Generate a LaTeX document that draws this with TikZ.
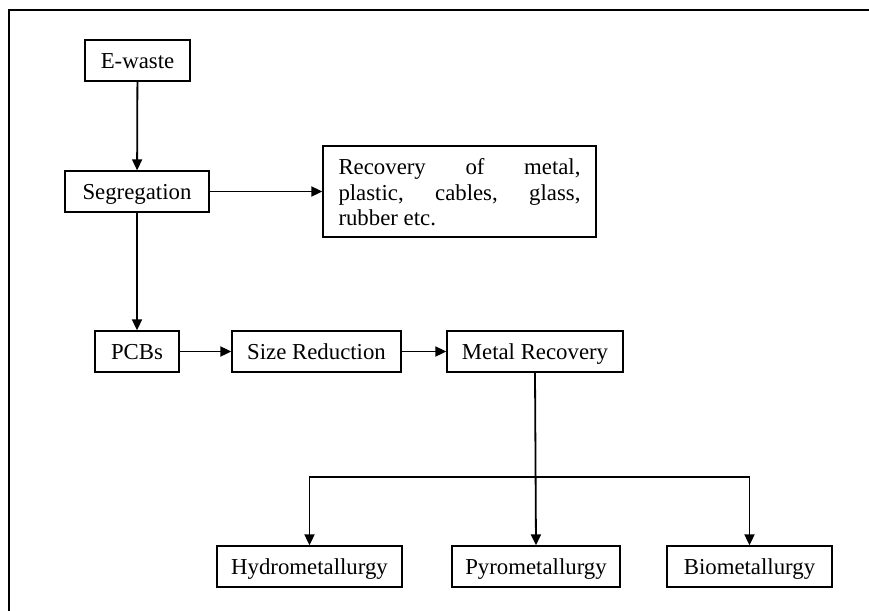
\documentclass[tikz,border=0pt]{standalone}
\usepackage{fontspec}
\setmainfont{Liberation Serif}
\usetikzlibrary{arrows.meta,positioning}

\tikzset{
    flow box/.style={
        draw,line width=.65pt,
        minimum height=20.5pt,inner sep=0pt,
        text height=10pt,text depth=2pt,
        font=\fontsize{11.4}{12.75}\selectfont
    },
    flow arrow/.style={
        line width=.9pt,
        -{Triangle[length=5.5pt,width=5pt]}
    }
}

\begin{document}
\begin{tikzpicture}[x=.5pt,y=-.5pt]
        \useasboundingbox (0,0) rectangle (869,611);
        \draw[line width=.9pt] (9,611) -- (9,10) -- (869,10);
        \node[flow box,minimum width=52.5pt] (ewaste) at (137.5,60.5) {E-waste};
        \node[flow box,minimum width=72pt] (seg) at (137,191.5) {Segregation};
        \node[flow box,minimum width=136.5pt,minimum height=45.5pt,
            text width=121pt,align=justify,inner xsep=7.75pt,
            text height=11.4pt,text depth=28pt] (recov) at (459.5,191.5)
            {Recovery of metal,\linebreak plastic, cables, glass,\linebreak rubber etc.};
        \node[flow box,minimum width=42pt] (pcb) at (137,351.5) {PCBs};
        \node[flow box,minimum width=84.5pt] (size) at (316.5,351.5) {Size Reduction};
        \node[flow box,minimum width=88pt] (metal) at (535,351.5) {Metal Recovery};
        \foreach \x/\w/\name/\txt in {309.5/92.5/hydro/Hydrometallurgy,
                                     536/84/pyro/Pyrometallurgy,
                                     749.5/82.5/bio/Biometallurgy}
            \node[flow box,minimum width=\w pt] (\name) at (\x,566.5) {\txt};
        \draw[flow arrow] (ewaste) -- (seg);
        \draw[flow arrow] (seg) -- (recov);
        \draw[flow arrow] (seg) -- (pcb);
        \draw[flow arrow] (pcb) -- (size);
        \draw[flow arrow] (size) -- (metal);
        % split to the three routes
        \coordinate (split) at ([yshift=-52pt]metal.south);
        \draw[flow arrow] (metal.south) -- (pyro.north);
        \draw[flow arrow] (split) -| (hydro.north);
        \draw[flow arrow] (split) -| (bio.north);
    \end{tikzpicture}
\end{document}
